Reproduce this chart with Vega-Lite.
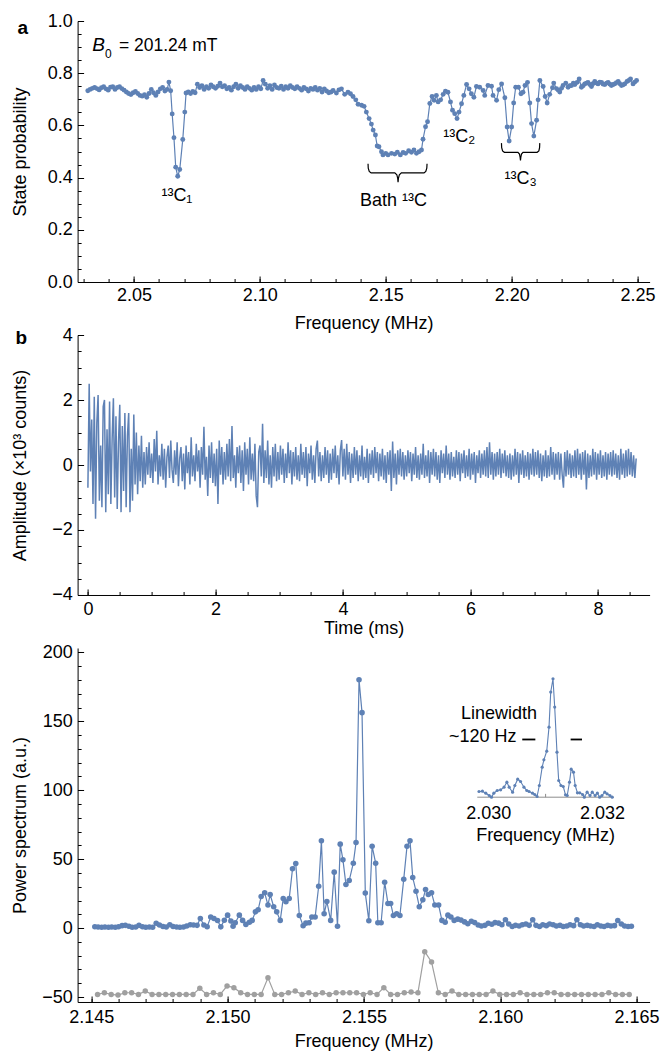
{
"$schema":"https://vega.github.io/schema/vega-lite/v6.json",
"background":"white",
"autosize":{"type":"pad"},
"padding":{"left":10.6,"top":12,"right":5,"bottom":2},
"spacing":53,
"bounds":"flush",
"datasets":{
"pa":[{"f":2.0317,"p":0.733},{"f":2.0326,"p":0.738},{"f":2.0335,"p":0.742},{"f":2.0344,"p":0.745},{"f":2.0353,"p":0.741},{"f":2.0362,"p":0.736},{"f":2.0371,"p":0.744},{"f":2.038,"p":0.748},{"f":2.0389,"p":0.74},{"f":2.0398,"p":0.735},{"f":2.0407,"p":0.746},{"f":2.0416,"p":0.748},{"f":2.0425,"p":0.738},{"f":2.0434,"p":0.745},{"f":2.0443,"p":0.748},{"f":2.0452,"p":0.741},{"f":2.0461,"p":0.735},{"f":2.047,"p":0.728},{"f":2.0479,"p":0.722},{"f":2.0488,"p":0.718},{"f":2.0497,"p":0.725},{"f":2.0506,"p":0.73},{"f":2.0515,"p":0.722},{"f":2.0524,"p":0.715},{"f":2.0533,"p":0.712},{"f":2.0542,"p":0.718},{"f":2.0551,"p":0.708},{"f":2.056,"p":0.722},{"f":2.0569,"p":0.738},{"f":2.0578,"p":0.725},{"f":2.0587,"p":0.715},{"f":2.0596,"p":0.728},{"f":2.0605,"p":0.74},{"f":2.0614,"p":0.745},{"f":2.0623,"p":0.732},{"f":2.0632,"p":0.738},{"f":2.0639,"p":0.766},{"f":2.0646,"p":0.733},{"f":2.0652,"p":0.644},{"f":2.0659,"p":0.553},{"f":2.0666,"p":0.44},{"f":2.0674,"p":0.405},{"f":2.0682,"p":0.431},{"f":2.0694,"p":0.546},{"f":2.0702,"p":0.651},{"f":2.0707,"p":0.724},{"f":2.0716,"p":0.728},{"f":2.0725,"p":0.722},{"f":2.0734,"p":0.73},{"f":2.0743,"p":0.725},{"f":2.0752,"p":0.758},{"f":2.0761,"p":0.745},{"f":2.077,"p":0.752},{"f":2.0779,"p":0.738},{"f":2.0788,"p":0.748},{"f":2.0797,"p":0.742},{"f":2.0806,"p":0.755},{"f":2.0815,"p":0.748},{"f":2.0824,"p":0.742},{"f":2.0833,"p":0.75},{"f":2.0842,"p":0.762},{"f":2.0851,"p":0.748},{"f":2.086,"p":0.752},{"f":2.0869,"p":0.74},{"f":2.0878,"p":0.745},{"f":2.0887,"p":0.735},{"f":2.0896,"p":0.748},{"f":2.0905,"p":0.758},{"f":2.0914,"p":0.742},{"f":2.0923,"p":0.752},{"f":2.0932,"p":0.745},{"f":2.0941,"p":0.738},{"f":2.095,"p":0.748},{"f":2.0959,"p":0.742},{"f":2.0968,"p":0.735},{"f":2.0977,"p":0.745},{"f":2.0986,"p":0.738},{"f":2.0995,"p":0.748},{"f":2.1004,"p":0.74},{"f":2.1013,"p":0.772},{"f":2.1022,"p":0.758},{"f":2.1031,"p":0.742},{"f":2.104,"p":0.752},{"f":2.1049,"p":0.738},{"f":2.1058,"p":0.755},{"f":2.1067,"p":0.745},{"f":2.1076,"p":0.742},{"f":2.1085,"p":0.75},{"f":2.1094,"p":0.738},{"f":2.1103,"p":0.748},{"f":2.1112,"p":0.742},{"f":2.1121,"p":0.752},{"f":2.113,"p":0.745},{"f":2.1139,"p":0.74},{"f":2.1148,"p":0.748},{"f":2.1157,"p":0.742},{"f":2.1166,"p":0.735},{"f":2.1175,"p":0.745},{"f":2.1184,"p":0.74},{"f":2.1193,"p":0.732},{"f":2.1202,"p":0.742},{"f":2.1211,"p":0.738},{"f":2.122,"p":0.745},{"f":2.1229,"p":0.735},{"f":2.1238,"p":0.742},{"f":2.1247,"p":0.728},{"f":2.1256,"p":0.74},{"f":2.1265,"p":0.732},{"f":2.1274,"p":0.725},{"f":2.1283,"p":0.728},{"f":2.1291,"p":0.734},{"f":2.1304,"p":0.724},{"f":2.1314,"p":0.736},{"f":2.1324,"p":0.74},{"f":2.1337,"p":0.719},{"f":2.135,"p":0.727},{"f":2.136,"p":0.721},{"f":2.137,"p":0.711},{"f":2.1381,"p":0.698},{"f":2.139,"p":0.681},{"f":2.1404,"p":0.677},{"f":2.1414,"p":0.673},{"f":2.1423,"p":0.651},{"f":2.1434,"p":0.626},{"f":2.1443,"p":0.605},{"f":2.145,"p":0.582},{"f":2.1459,"p":0.563},{"f":2.1466,"p":0.521},{"f":2.1473,"p":0.518},{"f":2.1483,"p":0.499},{"f":2.1489,"p":0.487},{"f":2.15,"p":0.493},{"f":2.1509,"p":0.487},{"f":2.1523,"p":0.493},{"f":2.1536,"p":0.49},{"f":2.1546,"p":0.497},{"f":2.1558,"p":0.487},{"f":2.1569,"p":0.496},{"f":2.1579,"p":0.493},{"f":2.1591,"p":0.503},{"f":2.1602,"p":0.497},{"f":2.1612,"p":0.506},{"f":2.1622,"p":0.493},{"f":2.1632,"p":0.499},{"f":2.1642,"p":0.506},{"f":2.1648,"p":0.547},{"f":2.1658,"p":0.595},{"f":2.1666,"p":0.614},{"f":2.1675,"p":0.684},{"f":2.1684,"p":0.711},{"f":2.1692,"p":0.696},{"f":2.1701,"p":0.715},{"f":2.1708,"p":0.69},{"f":2.1718,"p":0.698},{"f":2.1728,"p":0.719},{"f":2.1737,"p":0.731},{"f":2.1747,"p":0.727},{"f":2.1757,"p":0.69},{"f":2.1765,"p":0.658},{"f":2.1774,"p":0.645},{"f":2.1783,"p":0.626},{"f":2.1791,"p":0.651},{"f":2.1801,"p":0.683},{"f":2.181,"p":0.715},{"f":2.1821,"p":0.757},{"f":2.1831,"p":0.74},{"f":2.184,"p":0.721},{"f":2.185,"p":0.708},{"f":2.186,"p":0.749},{"f":2.1873,"p":0.746},{"f":2.1887,"p":0.734},{"f":2.1893,"p":0.715},{"f":2.1906,"p":0.753},{"f":2.192,"p":0.75},{"f":2.1926,"p":0.715},{"f":2.194,"p":0.696},{"f":2.1949,"p":0.737},{"f":2.196,"p":0.759},{"f":2.1973,"p":0.706},{"f":2.1982,"p":0.594},{"f":2.199,"p":0.54},{"f":2.2,"p":0.594},{"f":2.2008,"p":0.686},{"f":2.2016,"p":0.746},{"f":2.2027,"p":0.746},{"f":2.2037,"p":0.721},{"f":2.2045,"p":0.727},{"f":2.2053,"p":0.753},{"f":2.2063,"p":0.765},{"f":2.2072,"p":0.686},{"f":2.2079,"p":0.607},{"f":2.2088,"p":0.559},{"f":2.2099,"p":0.62},{"f":2.2105,"p":0.698},{"f":2.2112,"p":0.772},{"f":2.2125,"p":0.749},{"f":2.2133,"p":0.711},{"f":2.2141,"p":0.686},{"f":2.2151,"p":0.719},{"f":2.2162,"p":0.744},{"f":2.2167,"p":0.762},{"f":2.2178,"p":0.741},{"f":2.2185,"p":0.735},{"f":2.2191,"p":0.728},{"f":2.2198,"p":0.742},{"f":2.2204,"p":0.753},{"f":2.2215,"p":0.762},{"f":2.2224,"p":0.746},{"f":2.2231,"p":0.752},{"f":2.2238,"p":0.753},{"f":2.2245,"p":0.762},{"f":2.2251,"p":0.757},{"f":2.226,"p":0.765},{"f":2.2268,"p":0.778},{"f":2.2277,"p":0.746},{"f":2.2284,"p":0.752},{"f":2.229,"p":0.759},{"f":2.2297,"p":0.762},{"f":2.2303,"p":0.765},{"f":2.231,"p":0.757},{"f":2.2317,"p":0.749},{"f":2.2323,"p":0.76},{"f":2.233,"p":0.768},{"f":2.2337,"p":0.762},{"f":2.2343,"p":0.759},{"f":2.235,"p":0.766},{"f":2.2357,"p":0.765},{"f":2.2363,"p":0.758},{"f":2.237,"p":0.757},{"f":2.2377,"p":0.762},{"f":2.2383,"p":0.765},{"f":2.239,"p":0.758},{"f":2.2396,"p":0.753},{"f":2.2403,"p":0.757},{"f":2.2409,"p":0.759},{"f":2.2416,"p":0.764},{"f":2.2423,"p":0.768},{"f":2.2429,"p":0.76},{"f":2.2436,"p":0.753},{"f":2.2443,"p":0.756},{"f":2.2449,"p":0.759},{"f":2.2458,"p":0.768},{"f":2.2465,"p":0.772},{"f":2.2472,"p":0.778},{"f":2.2482,"p":0.759},{"f":2.2489,"p":0.766},{"f":2.2496,"p":0.772}],
"braceBath":[{"f":2.14297,"p":0.453},{"f":2.14305,"p":0.436},{"f":2.14345,"p":0.424},{"f":2.1442,"p":0.418},{"f":2.1536,"p":0.418},{"f":2.1544,"p":0.411},{"f":2.15475,"p":0.397},{"f":2.15489,"p":0.382},{"f":2.15503,"p":0.397},{"f":2.1554,"p":0.411},{"f":2.1562,"p":0.418},{"f":2.1652,"p":0.418},{"f":2.1659,"p":0.424},{"f":2.1663,"p":0.436},{"f":2.1664,"p":0.453}],
"braceC3":[{"f":2.19595,"p":0.532},{"f":2.19603,"p":0.515},{"f":2.1964,"p":0.502},{"f":2.1971,"p":0.497},{"f":2.2025,"p":0.497},{"f":2.2031,"p":0.49},{"f":2.20335,"p":0.478},{"f":2.2035,"p":0.466},{"f":2.20365,"p":0.478},{"f":2.2039,"p":0.49},{"f":2.2045,"p":0.497},{"f":2.2101,"p":0.497},{"f":2.2108,"p":0.502},{"f":2.21108,"p":0.515},{"f":2.21116,"p":0.532}],
"pb":[{"t":0,"a":-0.7},{"t":0.02,"a":2.5},{"t":0.04,"a":-0.2},{"t":0.06,"a":1.4},{"t":0.08,"a":-1.2},{"t":0.1,"a":2.1},{"t":0.12,"a":-1.65},{"t":0.14,"a":1.3},{"t":0.16,"a":2.15},{"t":0.18,"a":-1.1},{"t":0.2,"a":0.6},{"t":0.22,"a":-1.3},{"t":0.24,"a":1.8},{"t":0.26,"a":2},{"t":0.28,"a":-1.45},{"t":0.3,"a":1.1},{"t":0.32,"a":-0.9},{"t":0.34,"a":1.95},{"t":0.36,"a":-1.2},{"t":0.38,"a":0.8},{"t":0.4,"a":2.05},{"t":0.42,"a":-1},{"t":0.44,"a":1.5},{"t":0.46,"a":-1.35},{"t":0.48,"a":0.7},{"t":0.5,"a":1.85},{"t":0.52,"a":-1.45},{"t":0.54,"a":1.2},{"t":0.56,"a":-0.8},{"t":0.58,"a":1.6},{"t":0.6,"a":-1.3},{"t":0.62,"a":0.9},{"t":0.64,"a":1.6},{"t":0.66,"a":-1.45},{"t":0.68,"a":0.5},{"t":0.7,"a":-1.1},{"t":0.72,"a":1.55},{"t":0.74,"a":-0.6},{"t":0.76,"a":1},{"t":0.78,"a":-0.9},{"t":0.8,"a":0.6},{"t":0.82,"a":-0.5},{"t":0.84,"a":0.9},{"t":0.86,"a":-0.7},{"t":0.88,"a":0.4},{"t":0.9,"a":-0.6},{"t":0.92,"a":0.55},{"t":0.94,"a":-0.3},{"t":0.96,"a":0.7},{"t":0.98,"a":-0.4},
{"t":1,"a":0.35},{"t":1.02,"a":-0.55},{"t":1.04,"a":0.8},{"t":1.06,"a":-0.2},{"t":1.08,"a":1.05},{"t":1.1,"a":-0.6},{"t":1.12,"a":0.3},{"t":1.14,"a":-0.35},{"t":1.16,"a":0.65},{"t":1.18,"a":-0.45},{"t":1.2,"a":0.5},{"t":1.22,"a":-0.7},{"t":1.24,"a":0.25},{"t":1.26,"a":0.6},{"t":1.28,"a":-0.4},{"t":1.3,"a":0.75},{"t":1.32,"a":-0.15},{"t":1.34,"a":-0.55},{"t":1.36,"a":0.45},{"t":1.38,"a":-0.3},{"t":1.4,"a":0.7},{"t":1.42,"a":-0.65},{"t":1.44,"a":0.2},{"t":1.46,"a":0.55},{"t":1.48,"a":-0.5},{"t":1.5,"a":0.35},{"t":1.52,"a":-0.75},{"t":1.54,"a":0.6},{"t":1.56,"a":-0.25},{"t":1.58,"a":0.4},{"t":1.6,"a":-0.6},{"t":1.62,"a":0.85},{"t":1.64,"a":-0.35},{"t":1.66,"a":0.3},{"t":1.68,"a":-0.5},{"t":1.7,"a":0.65},{"t":1.72,"a":-0.2},{"t":1.74,"a":0.45},{"t":1.76,"a":-0.7},{"t":1.78,"a":0.55},{"t":1.8,"a":-0.3},{"t":1.82,"a":1.18},{"t":1.84,"a":-0.45},{"t":1.86,"a":0.25},{"t":1.88,"a":-0.95},{"t":1.9,"a":0.6},{"t":1.92,"a":-0.4},{"t":1.94,"a":0.7},{"t":1.96,"a":-0.55},{"t":1.98,"a":0.35},
{"t":2,"a":-0.65},{"t":2.02,"a":0.5},{"t":2.04,"a":-1.2},{"t":2.06,"a":0.75},{"t":2.08,"a":-0.3},{"t":2.1,"a":0.55},{"t":2.12,"a":-0.6},{"t":2.14,"a":0.4},{"t":2.16,"a":-0.45},{"t":2.18,"a":0.65},{"t":2.2,"a":-0.35},{"t":2.22,"a":0.8},{"t":2.24,"a":-0.5},{"t":2.26,"a":1.2},{"t":2.28,"a":-0.4},{"t":2.3,"a":0.3},{"t":2.32,"a":-0.7},{"t":2.34,"a":0.55},{"t":2.36,"a":-0.25},{"t":2.38,"a":0.6},{"t":2.4,"a":-0.55},{"t":2.42,"a":0.45},{"t":2.44,"a":-0.8},{"t":2.46,"a":0.7},{"t":2.48,"a":-0.3},{"t":2.5,"a":0.5},{"t":2.52,"a":-0.6},{"t":2.54,"a":0.85},{"t":2.56,"a":-0.45},{"t":2.58,"a":0.35},{"t":2.6,"a":-0.5},{"t":2.62,"a":0.65},{"t":2.64,"a":-0.95},{"t":2.66,"a":-1.3},{"t":2.68,"a":0.4},{"t":2.7,"a":0.6},{"t":2.72,"a":-0.35},{"t":2.74,"a":1.27},{"t":2.76,"a":-0.55},{"t":2.78,"a":0.45},{"t":2.8,"a":-0.4},{"t":2.82,"a":0.75},{"t":2.84,"a":-0.6},{"t":2.86,"a":0.3},{"t":2.88,"a":-0.7},{"t":2.9,"a":0.55},{"t":2.92,"a":-0.35},{"t":2.94,"a":0.65},{"t":2.96,"a":-0.5},{"t":2.98,"a":0.4},
{"t":3,"a":-0.45},{"t":3.02,"a":0.6},{"t":3.04,"a":-0.3},{"t":3.06,"a":0.5},{"t":3.08,"a":-0.55},{"t":3.1,"a":0.35},{"t":3.12,"a":-0.4},{"t":3.14,"a":0.7},{"t":3.16,"a":-0.25},{"t":3.18,"a":0.45},{"t":3.2,"a":-0.6},{"t":3.22,"a":0.4},{"t":3.24,"a":-0.35},{"t":3.26,"a":0.55},{"t":3.28,"a":-0.45},{"t":3.3,"a":0.3},{"t":3.32,"a":-0.5},{"t":3.34,"a":0.65},{"t":3.36,"a":-0.3},{"t":3.38,"a":0.4},{"t":3.4,"a":-0.4},{"t":3.42,"a":0.55},{"t":3.44,"a":-0.65},{"t":3.46,"a":0.35},{"t":3.48,"a":-0.25},{"t":3.5,"a":0.6},{"t":3.52,"a":-0.45},{"t":3.54,"a":0.3},{"t":3.56,"a":-0.55},{"t":3.58,"a":0.5},{"t":3.6,"a":0.75},{"t":3.62,"a":-0.35},{"t":3.64,"a":0.4},{"t":3.66,"a":-0.5},{"t":3.68,"a":0.3},{"t":3.7,"a":-0.4},{"t":3.72,"a":0.55},{"t":3.74,"a":-0.3},{"t":3.76,"a":0.45},{"t":3.78,"a":-0.55},{"t":3.8,"a":0.35},{"t":3.82,"a":-0.45},{"t":3.84,"a":0.5},{"t":3.86,"a":-0.25},{"t":3.88,"a":0.6},{"t":3.9,"a":-0.4},{"t":3.92,"a":0.3},{"t":3.94,"a":-0.6},{"t":3.96,"a":0.45},{"t":3.98,"a":0.77},
{"t":4,"a":-0.35},{"t":4.02,"a":0.5},{"t":4.04,"a":-0.45},{"t":4.06,"a":0.65},{"t":4.08,"a":-0.3},{"t":4.1,"a":0.4},{"t":4.12,"a":-0.55},{"t":4.14,"a":0.35},{"t":4.16,"a":-0.4},{"t":4.18,"a":0.55},{"t":4.2,"a":-0.3},{"t":4.22,"a":0.45},{"t":4.24,"a":-0.5},{"t":4.26,"a":0.3},{"t":4.28,"a":-0.35},{"t":4.3,"a":0.6},{"t":4.32,"a":-0.45},{"t":4.34,"a":0.25},{"t":4.36,"a":-0.4},{"t":4.38,"a":0.5},{"t":4.4,"a":-0.55},{"t":4.42,"a":0.35},{"t":4.44,"a":-0.3},{"t":4.46,"a":0.45},{"t":4.48,"a":-0.4},{"t":4.5,"a":0.55},{"t":4.52,"a":-0.25},{"t":4.54,"a":0.4},{"t":4.56,"a":-0.5},{"t":4.58,"a":0.35},{"t":4.6,"a":-0.35},{"t":4.62,"a":0.5},{"t":4.64,"a":-0.45},{"t":4.66,"a":0.3},{"t":4.68,"a":-0.55},{"t":4.7,"a":0.4},{"t":4.72,"a":-0.3},{"t":4.74,"a":0.45},{"t":4.76,"a":-0.8},{"t":4.78,"a":0.72},{"t":4.8,"a":-0.4},{"t":4.82,"a":0.35},{"t":4.84,"a":-0.6},{"t":4.86,"a":0.45},{"t":4.88,"a":-0.3},{"t":4.9,"a":0.5},{"t":4.92,"a":-0.35},{"t":4.94,"a":0.4},{"t":4.96,"a":-0.45},{"t":4.98,"a":0.3},
{"t":5,"a":-0.35},{"t":5.02,"a":0.45},{"t":5.04,"a":-0.25},{"t":5.06,"a":0.4},{"t":5.08,"a":-0.5},{"t":5.1,"a":0.35},{"t":5.12,"a":-0.3},{"t":5.14,"a":0.55},{"t":5.16,"a":-0.4},{"t":5.18,"a":0.3},{"t":5.2,"a":-0.45},{"t":5.22,"a":0.35},{"t":5.24,"a":-0.3},{"t":5.26,"a":0.65},{"t":5.28,"a":-0.4},{"t":5.3,"a":0.3},{"t":5.32,"a":-0.35},{"t":5.34,"a":0.45},{"t":5.36,"a":-0.55},{"t":5.38,"a":0.4},{"t":5.4,"a":-0.3},{"t":5.42,"a":0.5},{"t":5.44,"a":-0.35},{"t":5.46,"a":0.4},{"t":5.48,"a":-0.45},{"t":5.5,"a":0.3},{"t":5.52,"a":-0.55},{"t":5.54,"a":0.45},{"t":5.56,"a":-0.25},{"t":5.58,"a":0.35},{"t":5.6,"a":-0.4},{"t":5.62,"a":0.6},{"t":5.64,"a":-0.3},{"t":5.66,"a":0.35},{"t":5.68,"a":-0.45},{"t":5.7,"a":0.4},{"t":5.72,"a":-0.35},{"t":5.74,"a":0.25},{"t":5.76,"a":-0.4},{"t":5.78,"a":0.45},{"t":5.8,"a":-0.3},{"t":5.82,"a":0.4},{"t":5.84,"a":-0.5},{"t":5.86,"a":0.35},{"t":5.88,"a":-0.25},{"t":5.9,"a":0.45},{"t":5.92,"a":-0.4},{"t":5.94,"a":0.3},{"t":5.96,"a":-0.35},{"t":5.98,"a":0.5},
{"t":6,"a":-0.45},{"t":6.02,"a":0.35},{"t":6.04,"a":-0.3},{"t":6.06,"a":0.4},{"t":6.08,"a":-0.55},{"t":6.1,"a":0.3},{"t":6.12,"a":-0.25},{"t":6.14,"a":0.45},{"t":6.16,"a":-0.4},{"t":6.18,"a":0.35},{"t":6.2,"a":-0.3},{"t":6.22,"a":0.45},{"t":6.24,"a":-0.35},{"t":6.26,"a":0.55},{"t":6.28,"a":-0.4},{"t":6.3,"a":0.7},{"t":6.32,"a":-0.3},{"t":6.34,"a":0.4},{"t":6.36,"a":-0.45},{"t":6.38,"a":0.35},{"t":6.4,"a":-0.35},{"t":6.42,"a":0.4},{"t":6.44,"a":-0.3},{"t":6.46,"a":0.5},{"t":6.48,"a":-0.4},{"t":6.5,"a":0.35},{"t":6.52,"a":-0.25},{"t":6.54,"a":0.45},{"t":6.56,"a":-0.35},{"t":6.58,"a":0.3},{"t":6.6,"a":-0.4},{"t":6.62,"a":0.35},{"t":6.64,"a":-0.45},{"t":6.66,"a":0.3},{"t":6.68,"a":-0.35},{"t":6.7,"a":0.5},{"t":6.72,"a":-0.3},{"t":6.74,"a":0.4},{"t":6.76,"a":-0.55},{"t":6.78,"a":0.35},{"t":6.8,"a":-0.3},{"t":6.82,"a":0.45},{"t":6.84,"a":-0.4},{"t":6.86,"a":0.3},{"t":6.88,"a":-0.35},{"t":6.9,"a":0.4},{"t":6.92,"a":-0.45},{"t":6.94,"a":0.35},{"t":6.96,"a":-0.3},{"t":6.98,"a":0.5},
{"t":7,"a":-0.35},{"t":7.02,"a":0.4},{"t":7.04,"a":-0.3},{"t":7.06,"a":0.45},{"t":7.08,"a":-0.4},{"t":7.1,"a":0.35},{"t":7.12,"a":-0.5},{"t":7.14,"a":0.3},{"t":7.16,"a":-0.35},{"t":7.18,"a":0.45},{"t":7.2,"a":-0.4},{"t":7.22,"a":0.3},{"t":7.24,"a":-0.35},{"t":7.26,"a":0.55},{"t":7.28,"a":-0.3},{"t":7.3,"a":0.4},{"t":7.32,"a":-0.45},{"t":7.34,"a":0.35},{"t":7.36,"a":-0.3},{"t":7.38,"a":0.4},{"t":7.4,"a":-0.45},{"t":7.42,"a":0.35},{"t":7.44,"a":-0.3},{"t":7.46,"a":-0.7},{"t":7.48,"a":0.4},{"t":7.5,"a":-0.35},{"t":7.52,"a":0.45},{"t":7.54,"a":-0.3},{"t":7.56,"a":0.35},{"t":7.58,"a":-0.4},{"t":7.6,"a":0.3},{"t":7.62,"a":-0.35},{"t":7.64,"a":0.45},{"t":7.66,"a":-0.4},{"t":7.68,"a":0.5},{"t":7.7,"a":-0.3},{"t":7.72,"a":0.35},{"t":7.74,"a":-0.45},{"t":7.76,"a":0.4},{"t":7.78,"a":-0.3},{"t":7.8,"a":0.45},{"t":7.82,"a":-0.75},{"t":7.84,"a":0.35},{"t":7.86,"a":-0.4},{"t":7.88,"a":0.3},{"t":7.9,"a":-0.35},{"t":7.92,"a":0.5},{"t":7.94,"a":-0.3},{"t":7.96,"a":0.4},{"t":7.98,"a":-0.45},
{"t":8,"a":0.35},{"t":8.02,"a":-0.3},{"t":8.04,"a":0.45},{"t":8.06,"a":-0.4},{"t":8.08,"a":0.3},{"t":8.1,"a":-0.35},{"t":8.12,"a":0.4},{"t":8.14,"a":-0.45},{"t":8.16,"a":0.35},{"t":8.18,"a":-0.3},{"t":8.2,"a":0.4},{"t":8.22,"a":-0.35},{"t":8.24,"a":0.45},{"t":8.26,"a":-0.3},{"t":8.28,"a":0.35},{"t":8.3,"a":-0.4},{"t":8.32,"a":0.3},{"t":8.34,"a":-0.45},{"t":8.36,"a":0.5},{"t":8.38,"a":-0.3},{"t":8.4,"a":0.35},{"t":8.42,"a":-0.4},{"t":8.44,"a":0.45},{"t":8.46,"a":-0.35},{"t":8.48,"a":0.5},{"t":8.5,"a":-0.3},{"t":8.52,"a":0.4},{"t":8.54,"a":-0.35},{"t":8.56,"a":0.3},{"t":8.58,"a":-0.4},{"t":8.6,"a":0.2}],
"blue":[{"f":2.14513,"s":1},{"f":2.14525,"s":0.8},{"f":2.14538,"s":0.6},{"f":2.1455,"s":0.8},{"f":2.14563,"s":0.6},{"f":2.14575,"s":0.8},{"f":2.14588,"s":0.6},{"f":2.146,"s":1},{"f":2.14613,"s":1.8},{"f":2.14625,"s":2},{"f":2.14638,"s":1.4},{"f":2.1465,"s":0.6},{"f":2.14663,"s":0.8},{"f":2.14675,"s":2},{"f":2.14688,"s":1},{"f":2.147,"s":0.6},{"f":2.14713,"s":0.8},{"f":2.14725,"s":0.6},{"f":2.14738,"s":3.5},{"f":2.1475,"s":2.2},{"f":2.14763,"s":1.2},{"f":2.14775,"s":0.8},{"f":2.14788,"s":2.5},{"f":2.148,"s":1.2},{"f":2.14813,"s":0.8},{"f":2.14825,"s":0.6},{"f":2.14838,"s":0.8},{"f":2.1485,"s":1.5},{"f":2.14863,"s":2.5},{"f":2.14875,"s":2.2},{"f":2.14888,"s":2},{"f":2.149,"s":7},{"f":2.14913,"s":2.2},{"f":2.14925,"s":1},{"f":2.14938,"s":8},{"f":2.1495,"s":7},{"f":2.14963,"s":5.5},{"f":2.14975,"s":0.9},{"f":2.14988,"s":5.7},
{"f":2.15,"s":9.4},{"f":2.15012,"s":5.1},{"f":2.1502,"s":1.4},{"f":2.15028,"s":3.9},{"f":2.15043,"s":9.4},{"f":2.15055,"s":5.6},{"f":2.15067,"s":2.7},{"f":2.1508,"s":4.3},{"f":2.1509,"s":5.6},{"f":2.15102,"s":11.8},{"f":2.15112,"s":13.3},{"f":2.15123,"s":22.9},{"f":2.15136,"s":25.6},{"f":2.15148,"s":16.7},{"f":2.15156,"s":24.4},{"f":2.15169,"s":15.5},{"f":2.1518,"s":11.8},{"f":2.15193,"s":5.6},{"f":2.15204,"s":21.5},{"f":2.15214,"s":19.1},{"f":2.15226,"s":21.5},{"f":2.15238,"s":43},{"f":2.1525,"s":46.9},{"f":2.15263,"s":9.2},{"f":2.15277,"s":1.7},{"f":2.15287,"s":3.6},{"f":2.15299,"s":3.9},{"f":2.15309,"s":8},{"f":2.15321,"s":8},{"f":2.15334,"s":30.4},{"f":2.15344,"s":63.3},{"f":2.15354,"s":10.4},{"f":2.15364,"s":19.3},{"f":2.15378,"s":5.6},{"f":2.15391,"s":40.6},{"f":2.15403,"s":1.4},{"f":2.15413,"s":60.9},{"f":2.15423,"s":49.5},{"f":2.15434,"s":31.6},{"f":2.15446,"s":34.5},{"f":2.15461,"s":47.1},{"f":2.15471,"s":62.1},{"f":2.15482,"s":180.2},{"f":2.15493,"s":156.3},{"f":2.15505,"s":25.4},{"f":2.15518,"s":5.3},{"f":2.1553,"s":59.4},{"f":2.15543,"s":47.1},{"f":2.15551,"s":3.9},{"f":2.15563,"s":3.9},{"f":2.15576,"s":33.3},{"f":2.15588,"s":17.9},{"f":2.15598,"s":17.9},{"f":2.15608,"s":9.2},{"f":2.1562,"s":10.4},{"f":2.15632,"s":9.2},{"f":2.15646,"s":35.5},{"f":2.15658,"s":59.4},{"f":2.15669,"s":63.3},{"f":2.15679,"s":36.7},{"f":2.15691,"s":26.8},{"f":2.15703,"s":15.5},{"f":2.15716,"s":20.5},{"f":2.15726,"s":28},{"f":2.15736,"s":24.4},{"f":2.15748,"s":25.6},{"f":2.1576,"s":16.7},{"f":2.15774,"s":16.7},{"f":2.15786,"s":5.6},{"f":2.15798,"s":4.3},{"f":2.15808,"s":9.4},{"f":2.15819,"s":8},{"f":2.15831,"s":5.6},
{"f":2.15844,"s":6.5},{"f":2.15856,"s":5.8},{"f":2.15869,"s":4.5},{"f":2.15881,"s":3.2},{"f":2.15894,"s":5},{"f":2.15906,"s":4},{"f":2.15919,"s":2.2},{"f":2.15931,"s":1.5},{"f":2.15944,"s":2},{"f":2.15956,"s":3.5},{"f":2.15969,"s":2.8},{"f":2.15981,"s":4},{"f":2.15994,"s":3.6},{"f":2.16006,"s":2.5},{"f":2.16019,"s":6},{"f":2.16031,"s":3},{"f":2.16044,"s":1.2},{"f":2.16056,"s":2},{"f":2.16069,"s":1.5},{"f":2.16081,"s":2.5},{"f":2.16094,"s":3},{"f":2.16106,"s":2},{"f":2.16119,"s":6},{"f":2.16131,"s":2},{"f":2.16144,"s":1.2},{"f":2.16156,"s":2.5},{"f":2.16169,"s":1.8},{"f":2.16181,"s":3},{"f":2.16194,"s":2.5},{"f":2.16206,"s":1.5},{"f":2.16219,"s":2},{"f":2.16231,"s":1.2},{"f":2.16244,"s":1.5},{"f":2.16256,"s":2.5},{"f":2.16269,"s":1.8},{"f":2.16281,"s":6},{"f":2.16294,"s":2.5},{"f":2.16306,"s":1.5},{"f":2.16319,"s":2},{"f":2.16331,"s":1.5},{"f":2.16344,"s":1.2},{"f":2.16356,"s":2.5},{"f":2.16369,"s":1.5},{"f":2.16381,"s":1.2},{"f":2.16394,"s":2},{"f":2.16406,"s":1.5},{"f":2.16419,"s":1.8},{"f":2.16431,"s":5.5},{"f":2.16444,"s":3},{"f":2.16456,"s":1.5},{"f":2.16469,"s":1.2},{"f":2.16481,"s":1.4}],
"grey":[{"f":2.14523,"s":-48.1},{"f":2.14548,"s":-46.9},{"f":2.14573,"s":-48.1},{"f":2.14598,"s":-48.6},{"f":2.14623,"s":-46.9},{"f":2.14648,"s":-46.9},{"f":2.14673,"s":-48.1},{"f":2.14698,"s":-45.7},{"f":2.14723,"s":-48.1},{"f":2.14748,"s":-48.1},{"f":2.14773,"s":-48.1},{"f":2.14798,"s":-48.1},{"f":2.14823,"s":-48.1},{"f":2.14848,"s":-48.1},{"f":2.14873,"s":-48.1},{"f":2.14898,"s":-43.7},{"f":2.14923,"s":-48.1},{"f":2.14948,"s":-46.9},{"f":2.14973,"s":-48.1},{"f":2.14998,"s":-42},{"f":2.15023,"s":-43.2},{"f":2.15048,"s":-46.9},{"f":2.15073,"s":-48.1},{"f":2.15098,"s":-48.1},{"f":2.15123,"s":-48.1},{"f":2.15148,"s":-36},{"f":2.15173,"s":-48.1},{"f":2.15198,"s":-48.1},{"f":2.15223,"s":-46.9},{"f":2.15248,"s":-45.7},{"f":2.15273,"s":-48.1},{"f":2.15298,"s":-46.9},{"f":2.15323,"s":-48.1},{"f":2.15348,"s":-46.9},{"f":2.15373,"s":-48.1},{"f":2.15398,"s":-46.9},{"f":2.15423,"s":-46.9},{"f":2.15448,"s":-46.9},{"f":2.15473,"s":-46.9},{"f":2.15498,"s":-48.1},{"f":2.15523,"s":-46.9},{"f":2.15548,"s":-48.1},{"f":2.15573,"s":-43.2},{"f":2.15598,"s":-48.1},{"f":2.15623,"s":-48.1},{"f":2.15648,"s":-46.9},{"f":2.15673,"s":-46.4},{"f":2.15698,"s":-46.9},{"f":2.15723,"s":-17.1},{"f":2.15748,"s":-24.6},{"f":2.15773,"s":-46.9},{"f":2.15798,"s":-48.1},{"f":2.15823,"s":-45.7},{"f":2.15848,"s":-48.1},{"f":2.15873,"s":-48.1},{"f":2.15898,"s":-48.1},{"f":2.15923,"s":-48.1},{"f":2.15948,"s":-48.1},{"f":2.15973,"s":-45.7},{"f":2.15998,"s":-48.1},{"f":2.16023,"s":-48.1},{"f":2.16048,"s":-48.1},{"f":2.16073,"s":-46.9},{"f":2.16098,"s":-48.1},{"f":2.16123,"s":-48.1},{"f":2.16148,"s":-48.1},{"f":2.16173,"s":-46.9},{"f":2.16198,"s":-46.9},{"f":2.16223,"s":-48.1},{"f":2.16248,"s":-48.1},{"f":2.16273,"s":-48.1},{"f":2.16298,"s":-48.1},{"f":2.16323,"s":-48.1},{"f":2.16348,"s":-48.1},{"f":2.16373,"s":-48.1},{"f":2.16398,"s":-46.9},{"f":2.16423,"s":-48.1},{"f":2.16448,"s":-48.1},{"f":2.16473,"s":-48.1}],
"inset":[{"f":2.02983,"s":8.5},{"f":2.02989,"s":9},{"f":2.02995,"s":6},{"f":2.03001,"s":2.5},{"f":2.03005,"s":0},{"f":2.03009,"s":6},{"f":2.03015,"s":10},{"f":2.03021,"s":11},{"f":2.03027,"s":15},{"f":2.03032,"s":22.5},{"f":2.03036,"s":15},{"f":2.03042,"s":7.5},{"f":2.03046,"s":17.5},{"f":2.03051,"s":27},{"f":2.03056,"s":23.5},{"f":2.03062,"s":15},{"f":2.03067,"s":10},{"f":2.03071,"s":8.5},{"f":2.03077,"s":6},{"f":2.03081,"s":4},{"f":2.03085,"s":1},{"f":2.03089,"s":17.5},{"f":2.03094,"s":45},{"f":2.03097,"s":56},{"f":2.03102,"s":69},{"f":2.03106,"s":105},{"f":2.03109,"s":157.5},{"f":2.03113,"s":177.5},{"f":2.03116,"s":135},{"f":2.0312,"s":67.5},{"f":2.03123,"s":25},{"f":2.03127,"s":17.5},{"f":2.03131,"s":16},{"f":2.03135,"s":3.5},{"f":2.03138,"s":2.5},{"f":2.03142,"s":22.5},{"f":2.03145,"s":42},{"f":2.03149,"s":37.5},{"f":2.03152,"s":17.5},{"f":2.03156,"s":6.5},{"f":2.0316,"s":6.5},{"f":2.03165,"s":4},{"f":2.03168,"s":0},{"f":2.03173,"s":7.5},{"f":2.03178,"s":2.5},{"f":2.03182,"s":7.5},{"f":2.03187,"s":2.5},{"f":2.03191,"s":6},{"f":2.03195,"s":0},{"f":2.03199,"s":2.5},{"f":2.03204,"s":7.5},{"f":2.03208,"s":5},{"f":2.03213,"s":2.5},{"f":2.03217,"s":0}]
},
"vconcat":[
{
"width":572,"height":261,
"title":{"text":"a","anchor":"start","frame":"group","orient":"top","offset":-25,"dx":-60,"dy":16,"fontSize":19,"fontWeight":"bold","font":"Liberation Sans","baseline":"alphabetic","color":"#000"},
"resolve":{"axis":{"x":"independent","y":"independent"}},
"layer":[
{"data":{"name":"pa"},"mark":{"type":"line","color":"#5E81B5","strokeWidth":1.2},
"encoding":{"x":{"field":"f","type":"quantitative","scale":{"domain":[2.02764,2.25477],"nice":false,"zero":false},"axis":{"orient":"bottom","values":[2.05,2.1,2.15,2.2,2.25],"format":".2f","title":"Frequency (MHz)","tickSize":-6,"labelPadding":24.5,"labelBaseline":"alphabetic","titleBaseline":"alphabetic","titleY":46.5}},
"y":{"field":"p","type":"quantitative","scale":{"domain":[0,1],"nice":false,"zero":false},"axis":{"orient":"left","values":[0,0.2,0.4,0.6,0.8,1],"format":".1f","title":"State probability","tickSize":-6,"labelPadding":11.3,"titleX":-52,"titleBaseline":"alphabetic"}}}},
{"data":{"name":"pa"},"mark":{"type":"circle","color":"#5E81B5","size":24,"opacity":1},
"encoding":{"x":{"field":"f","type":"quantitative","axis":{"orient":"bottom","values":[2.03,2.04,2.05,2.06,2.07,2.08,2.09,2.1,2.11,2.12,2.13,2.14,2.15,2.16,2.17,2.18,2.19,2.2,2.21,2.22,2.23,2.24,2.25],"labels":false,"domain":false,"title":null,"tickSize":-3.5}},
"y":{"field":"p","type":"quantitative","axis":{"orient":"left","values":[0,0.05,0.1,0.15,0.2,0.25,0.3,0.35,0.4,0.45,0.5,0.55,0.6,0.65,0.7,0.75,0.8,0.85,0.9,0.95,1],"labels":false,"domain":false,"title":null,"tickSize":-3.5}}}},
{"data":{"name":"braceBath"},"mark":{"type":"line","color":"#000","strokeWidth":1.2},"encoding":{"x":{"field":"f","type":"quantitative","axis":null},"y":{"field":"p","type":"quantitative","axis":null}}},
{"data":{"name":"braceC3"},"mark":{"type":"line","color":"#000","strokeWidth":1.2},"encoding":{"x":{"field":"f","type":"quantitative","axis":null},"y":{"field":"p","type":"quantitative","axis":null}}},
{"data":{"values":[{}]},"mark":{"type":"text","text":"B","align":"left","baseline":"alphabetic","fontSize":19,"fontStyle":"italic"},"encoding":{"x":{"datum":2.03348,"type":"quantitative","axis":null},"y":{"datum":0.884,"type":"quantitative","axis":null}}},
{"data":{"values":[{}]},"mark":{"type":"text","text":"0","align":"left","baseline":"alphabetic","fontSize":12},"encoding":{"x":{"datum":2.03856,"type":"quantitative","axis":null},"y":{"datum":0.86,"type":"quantitative","axis":null}}},
{"data":{"values":[{}]},"mark":{"type":"text","text":"= 201.24 mT","align":"left","baseline":"alphabetic","fontSize":17.5},"encoding":{"x":{"datum":2.04404,"type":"quantitative","axis":null},"y":{"datum":0.884,"type":"quantitative","axis":null}}},
{"data":{"values":[{}]},"mark":{"type":"text","text":"¹³C₁","align":"center","baseline":"alphabetic","fontSize":18},"encoding":{"x":{"datum":2.06708,"type":"quantitative","axis":null},"y":{"datum":0.312,"type":"quantitative","axis":null}}},
{"data":{"values":[{}]},"mark":{"type":"text","text":"Bath ¹³C","align":"center","baseline":"alphabetic","fontSize":18},"encoding":{"x":{"datum":2.15308,"type":"quantitative","axis":null},"y":{"datum":0.293,"type":"quantitative","axis":null}}},
{"data":{"values":[{}]},"mark":{"type":"text","text":"¹³C₂","align":"center","baseline":"alphabetic","fontSize":18},"encoding":{"x":{"datum":2.17921,"type":"quantitative","axis":null},"y":{"datum":0.536,"type":"quantitative","axis":null}}},
{"data":{"values":[{}]},"mark":{"type":"text","text":"¹³C₃","align":"center","baseline":"alphabetic","fontSize":18},"encoding":{"x":{"datum":2.20353,"type":"quantitative","axis":null},"y":{"datum":0.376,"type":"quantitative","axis":null}}}
]
},
{
"width":572,"height":260,
"title":{"text":"b","anchor":"start","frame":"group","orient":"top","offset":-24,"dx":-62,"dy":13,"fontSize":19,"fontWeight":"bold","font":"Liberation Sans","baseline":"alphabetic","color":"#000"},
"resolve":{"axis":{"x":"independent","y":"independent"}},
"layer":[
{"data":{"name":"pb"},"mark":{"type":"line","color":"#5E81B5","strokeWidth":1.5},
"encoding":{"x":{"field":"t","type":"quantitative","scale":{"domain":[-0.1616,8.811],"nice":false,"zero":false},"axis":{"orient":"bottom","values":[0,2,4,6,8],"format":"d","title":"Time (ms)","tickSize":-6,"labelPadding":25.3,"labelBaseline":"alphabetic","titleBaseline":"alphabetic","titleY":39}},
"y":{"field":"a","type":"quantitative","scale":{"domain":[-4,4],"nice":false,"zero":false},"axis":{"orient":"left","values":[-4,-2,0,2,4],"format":"d","title":"Amplitude (×10³ counts)","tickSize":-6,"labelPadding":11.3,"titleX":-52,"titleBaseline":"alphabetic"}}}},
{"data":{"name":"pb"},"mark":{"type":"line","opacity":0},
"encoding":{"x":{"field":"t","type":"quantitative","axis":{"orient":"bottom","values":[0,0.5,1,1.5,2,2.5,3,3.5,4,4.5,5,5.5,6,6.5,7,7.5,8,8.5],"labels":false,"domain":false,"title":null,"tickSize":-3.5}},
"y":{"field":"a","type":"quantitative","axis":{"orient":"left","values":[-4,-3.5,-3,-2.5,-2,-1.5,-1,-0.5,0,0.5,1,1.5,2,2.5,3,3.5,4],"labels":false,"domain":false,"title":null,"tickSize":-3.5}}}}
]
},
{
"width":572,"height":354,
"resolve":{"scale":{"x":"independent","y":"independent"},"axis":{"x":"independent","y":"independent"}},
"layer":[
{
"resolve":{"axis":{"x":"independent","y":"independent"}},
"layer":[
{"data":{"name":"grey"},"mark":{"type":"line","color":"#A0A0A0","strokeWidth":1.2},"encoding":{"x":{"field":"f","type":"quantitative","scale":{"domain":[2.144498,2.165477],"nice":false,"zero":false},"axis":null},"y":{"field":"s","type":"quantitative","scale":{"domain":[-53.6,203.2],"nice":false,"zero":false},"axis":null}}},
{"data":{"name":"grey"},"mark":{"type":"circle","color":"#A0A0A0","size":30,"opacity":1},"encoding":{"x":{"field":"f","type":"quantitative","axis":null},"y":{"field":"s","type":"quantitative","axis":null}}},
{"data":{"name":"blue"},"mark":{"type":"line","color":"#5E81B5","strokeWidth":1.2},
"encoding":{"x":{"field":"f","type":"quantitative","axis":{"orient":"bottom","values":[2.145,2.15,2.155,2.16,2.165],"format":".3f","title":"Frequency (MHz)","tickSize":-6,"labelPadding":27,"labelBaseline":"alphabetic","titleBaseline":"alphabetic","titleY":45}},
"y":{"field":"s","type":"quantitative","axis":{"orient":"left","values":[-50,0,50,100,150,200],"format":"d","title":"Power spectrum (a.u.)","tickSize":-6,"labelPadding":11.3,"titleX":-52,"titleBaseline":"alphabetic"}}}},
{"data":{"name":"blue"},"mark":{"type":"circle","color":"#5E81B5","size":31,"opacity":1},
"encoding":{"x":{"field":"f","type":"quantitative","axis":{"orient":"bottom","values":[2.145,2.146,2.147,2.148,2.149,2.15,2.151,2.152,2.153,2.154,2.155,2.156,2.157,2.158,2.159,2.16,2.161,2.162,2.163,2.164,2.165],"labels":false,"domain":false,"title":null,"tickSize":-3.5}},
"y":{"field":"s","type":"quantitative","axis":{"orient":"left","values":[-50,-40,-30,-20,-10,0,10,20,30,40,50,60,70,80,90,100,110,120,130,140,150,160,170,180,190,200],"labels":false,"domain":false,"title":null,"tickSize":-3.5}}}}
]
},
{
"layer":[
{"data":{"values":[{}]},"mark":{"type":"rule","color":"#8c8c8c","strokeWidth":1},"encoding":{"x":{"datum":2.0298,"type":"quantitative","scale":{"domain":[2.0298,2.0322],"range":[399.7,536.3],"nice":false,"zero":false},"axis":null},"x2":{"datum":2.0322},"y":{"datum":0,"type":"quantitative","scale":{"domain":[0,180],"range":[149.2,29.1],"nice":false,"zero":false},"axis":null}}},
{"data":{"values":[{}]},"mark":{"type":"rule","color":"#8c8c8c","strokeWidth":1},"encoding":{"x":{"datum":2.031,"type":"quantitative","axis":null},"y":{"datum":0,"type":"quantitative","axis":null},"y2":{"datum":5}}},
{"data":{"name":"inset"},"mark":{"type":"line","color":"#5E81B5","strokeWidth":1.1},"encoding":{"x":{"field":"f","type":"quantitative","axis":null},"y":{"field":"s","type":"quantitative","axis":null}}},
{"data":{"name":"inset"},"mark":{"type":"circle","color":"#5E81B5","size":10,"opacity":1},"encoding":{"x":{"field":"f","type":"quantitative","axis":null},"y":{"field":"s","type":"quantitative","axis":null}}},
{"data":{"values":[{}]},"mark":{"type":"rule","color":"#000","strokeWidth":1.8},"encoding":{"x":{"datum":2.03059,"type":"quantitative","axis":null},"x2":{"datum":2.03082},"y":{"datum":86.5,"type":"quantitative","axis":null}}},
{"data":{"values":[{}]},"mark":{"type":"rule","color":"#000","strokeWidth":1.8},"encoding":{"x":{"datum":2.03144,"type":"quantitative","axis":null},"x2":{"datum":2.03164},"y":{"datum":86.5,"type":"quantitative","axis":null}}},
{"data":{"values":[{}]},"mark":{"type":"text","text":"Linewidth","align":"center","baseline":"alphabetic","fontSize":18},"encoding":{"x":{"datum":2.03018,"type":"quantitative","axis":null},"y":{"datum":116.5,"type":"quantitative","axis":null}}},
{"data":{"values":[{}]},"mark":{"type":"text","text":"~120 Hz","align":"right","baseline":"alphabetic","fontSize":18},"encoding":{"x":{"datum":2.03049,"type":"quantitative","axis":null},"y":{"datum":82.5,"type":"quantitative","axis":null}}},
{"data":{"values":[{}]},"mark":{"type":"text","text":"2.030","align":"center","baseline":"alphabetic","fontSize":18},"encoding":{"x":{"datum":2.03,"type":"quantitative","axis":null},"y":{"datum":-32.4,"type":"quantitative","axis":null}}},
{"data":{"values":[{}]},"mark":{"type":"text","text":"2.032","align":"center","baseline":"alphabetic","fontSize":18},"encoding":{"x":{"datum":2.032,"type":"quantitative","axis":null},"y":{"datum":-32.4,"type":"quantitative","axis":null}}},
{"data":{"values":[{}]},"mark":{"type":"text","text":"Frequency (MHz)","align":"center","baseline":"alphabetic","fontSize":18},"encoding":{"x":{"datum":2.031,"type":"quantitative","axis":null},"y":{"datum":-65.7,"type":"quantitative","axis":null}}}
]
}
]
}
],
"config":{
"view":{"stroke":null},
"font":"Liberation Sans",
"axis":{"grid":false,"labelFont":"Liberation Sans","labelFontSize":18,"labelColor":"#000","titleFont":"Liberation Sans","titleFontSize":18,"titleFontWeight":"normal","titleColor":"#000","domainColor":"#000","tickColor":"#000","domainWidth":1,"tickWidth":1,"labelFlush":false,"labelOverlap":false},
"text":{"font":"Liberation Sans","fontSize":18,"color":"#000"}
}
}
